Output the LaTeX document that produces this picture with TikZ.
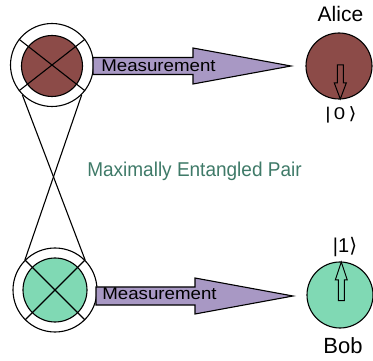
\documentclass[tikz,border=0pt]{standalone}
\usepackage{fontspec}
\setmainfont{Liberation Sans}
\newfontfamily\brfont{DejaVu Sans}
\definecolor{alicebrown}{HTML}{8C4B48}
\definecolor{bobgreen}{HTML}{80D9B4}
\definecolor{measpurple}{HTML}{A898C4}
\definecolor{pairgreen}{HTML}{3F7A68}
\begin{document}
\begin{tikzpicture}[x=1pt,y=-1pt,line width=1.1pt,
  ring/.style={circle,draw=black,inner sep=0pt},
  disc/.style={circle,draw=black,inner sep=0pt},
  measarrow/.style={draw=black,fill=measpurple,line width=1.1pt,line join=miter},
  spinarrow/.style={draw=black,line width=1pt,line join=miter},
  lbl/.style={inner sep=0pt,anchor=base},
  meas/.style={lbl,font=\fontsize{17}{17}\selectfont,xscale=1.1}]
\useasboundingbox (0,0) rectangle (373,361);
% entangled pair (left)
\node[ring,minimum size=83pt] (tA) at (52,65) {};
\node[disc,fill=alicebrown,minimum size=61pt] (tAin) at (52,66) {};
\draw (tA.38) -- (tA.218);
\draw (tA.142) -- (tA.-38);
\node[ring,minimum size=84pt] (bB) at (55,290) {};
\node[disc,fill=bobgreen,minimum size=64pt] (bBin) at (55,290) {};
\draw (bB.45) -- (bB.225);
\draw (bB.135) -- (bB.-45);
\draw (tA.225) -- (bB.45);
\draw (tA.-45) -- (bB.135);
% measurement arrows
\draw[measarrow] (93,57.5) -- (193,57.5) -- (193,48) -- (291,66) -- (193,84) -- (193,74.5) -- (93,74.5) -- cycle;
\draw[measarrow] (96,287) -- (195,287) -- (195,278) -- (293,296) -- (195,314) -- (195,305) -- (96,305) -- cycle;
\node[meas] (m1) at (158.5,71.5) {Measurement};
\node[meas] (m2) at (159.5,300) {Measurement};
% label
\node[lbl,font=\fontsize{20}{20}\selectfont,xscale=0.95,text=pairgreen] (pair) at (194.5,176.5) {Maximally Entangled Pair};
% Alice
\node[disc,fill=alicebrown,minimum size=66pt] (alice) at (339,66) {};
\draw[spinarrow] (337.3,65) -- (343.3,65) -- (343.3,83) -- (346.3,83) -- (340.3,99) -- (334.3,83) -- (337.3,83) -- cycle;
\node[lbl,font=\fontsize{17}{17}\selectfont] (alicelbl) at (340.5,22) {\fontsize{21}{21}\selectfont Alice};
\node[lbl,font=\fontsize{17}{17}\selectfont,xscale=1.2] (ket0) at (341,120) {|\,0\,{\brfont ⟩}};
% Bob
\node[disc,fill=bobgreen,minimum size=66pt] (bob) at (340,295) {};
\draw[spinarrow] (338.3,300.5) -- (344.3,300.5) -- (344.3,280) -- (347.3,280) -- (341.3,262) -- (335.3,280) -- (338.3,280) -- cycle;
\node[lbl,font=\fontsize{22}{22}\selectfont] (boblbl) at (343,353) {Bob};
\node[lbl,font=\fontsize{20}{20}\selectfont] (ket1) at (345,253) {|1{\brfont ⟩}};
\end{tikzpicture}
\end{document}
